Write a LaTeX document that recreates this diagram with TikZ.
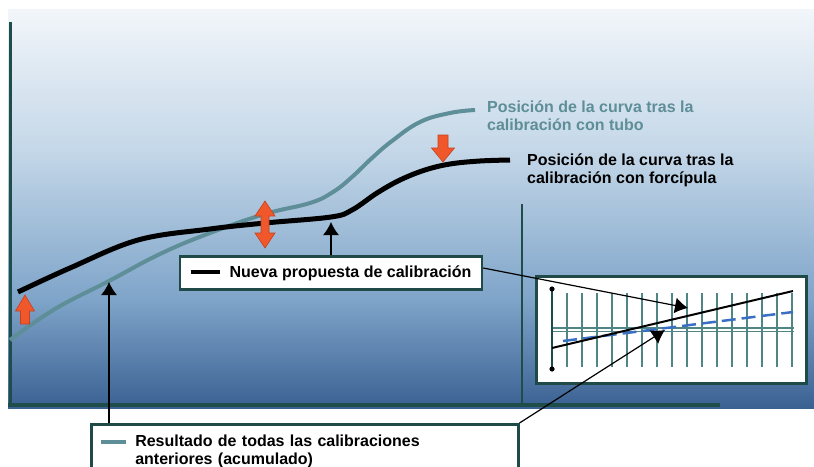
\documentclass[tikz,border=0pt]{standalone}
\usepackage{fontspec}
\setmainfont{Liberation Sans}
\usepackage{xcolor}
\usepackage{tikz}
\usetikzlibrary{arrows.meta, positioning, calc}

\definecolor{bgtop}{HTML}{F2F6FA}
\definecolor{bgupper}{HTML}{C4D7E8}
\definecolor{bglower}{HTML}{7EA4C9}
\definecolor{bgbottom}{HTML}{3A6192}
\definecolor{axisteal}{HTML}{1E4D4A}
\definecolor{curveteal}{HTML}{5E8E98}
\definecolor{tickteal}{HTML}{4F8585}
\definecolor{boxborder}{HTML}{1F4A47}
\definecolor{dashblue}{HTML}{3A6FC4}
\definecolor{arroworange}{HTML}{F0582C}
\definecolor{arrowedge}{HTML}{C8401C}

\tikzset{
  legendbox/.style={draw=boxborder, line width=2.5pt, fill=white},
  pointer/.style={black, line width=1.2pt, -{Latex[length=13pt, width=16pt]}},
  orangearrow/.style={fill=arroworange, draw=arrowedge, line width=0.6pt},
  curvelabel/.style={anchor=north west, inner sep=0pt, align=left}
}

\begin{document}
\begin{tikzpicture}[x=1pt, y=-1pt, every node/.style={font=\fontsize{16}{18}\selectfont\bfseries}]
    \useasboundingbox (0,0) rectangle (814,466);
    \clip (0,0) rectangle (814,466);
    % Background panel
    \fill[white] (0,0) rectangle (814,466);
    \shade[top color=bgtop, bottom color=bgupper] (8,9) rectangle (814,151);
    \shade[top color=bgupper, bottom color=bglower] (8,150) rectangle (814,301);
    \shade[top color=bglower, bottom color=bgbottom] (8,300) rectangle (814,408);
    % Axes
    \draw[axisteal, line width=3pt] (10,22) -- (10,405);
    \draw[axisteal, line width=4pt] (8,405) -- (720,405);
    \draw[axisteal, line width=2pt] (522,204) -- (522,405);
    % Curves
    \draw[curveteal, line width=4pt] plot[smooth, tension=0.7] coordinates {(10,340) (55,309) (109,281) (160,254) (210,233) (265,214) (310,203) (333,192) (352,177) (372,158) (392,141) (420,122) (450,113) (475,110)};
    \draw[black, line width=5pt] plot[smooth, tension=0.6] coordinates {(18,292) (70,268) (138,240) (210,229) (265,223) (331,217) (352,210) (377,193) (400,180) (425,170) (450,164) (480,161) (510,160)};
    \node[curvelabel, text=curveteal] (tubo) at (487,101) {Posición de la curva tras la\\calibración con tubo};
    \node[curvelabel, text=black] (forcipula) at (527,154) {Posición de la curva tras la\\calibración con forcípula};
    % Orange shift arrows
    \fill[orangearrow] (25,295) -- (34.5,311) -- (29.5,311) -- (29.5,324) -- (20.5,324) -- (20.5,311) -- (15.5,311) -- cycle;
    \fill[orangearrow] (265,201) -- (275,216) -- (269,216) -- (269,233) -- (275,233) -- (265,248) -- (255,233) -- (261,233) -- (261,216) -- (255,216) -- cycle;
    \fill[orangearrow] (443,162) -- (454.5,148) -- (448,148) -- (448,135) -- (438,135) -- (438,148) -- (431.5,148) -- cycle;
    % Legend boxes
    \node[legendbox, minimum width=302pt, minimum height=33pt, inner sep=0pt] (nueva) at (331,273) {\rule[3pt]{29pt}{4pt}\hspace{10pt}Nueva propuesta de calibración};
    \node[legendbox, anchor=north west, inner xsep=10pt, inner ysep=11pt, text width=407pt, align=left] (acum) at (90,423) {{\color{curveteal}\rule[3pt]{25pt}{4pt}}\hspace{9pt}Resultado de todas las calibraciones\\\hspace{34pt}anteriores (acumulado)};
    % Inset
    \node[draw=boxborder, line width=3pt, fill=white, minimum width=270pt, minimum height=107pt, inner sep=0pt] (inset) at (671,330) {};
    \foreach \i in {0,...,15}
      \draw[tickteal, line width=1.6pt] ({567+15*\i},293) -- ({567+15*\i},367);
    \draw[tickteal, line width=1.2pt] (552,328) -- (794,328);
    \draw[tickteal, line width=1.2pt] (552,331.5) -- (794,331.5);
    \draw[axisteal, line width=2pt] (552,289) -- (552,369);
    \fill (552,289) circle (2.6);
    \fill (552,369) circle (2.6);
    \draw[dashblue, line width=2.5pt, dash pattern=on 14pt off 6pt] (563,341) -- (793,312);
    \draw[black, line width=2pt] (552,348) -- (793,291);
    % Connectors
    \coordinate (tealpt) at (109,282);
    \coordinate (blackpt) at (331,222);
    \coordinate (tipA) at (688,308);
    \coordinate (tipB) at (665,330);
    \draw[pointer] (acum.north -| tealpt) -- (tealpt);
    \draw[pointer] (nueva.north -| blackpt) -- (blackpt);
    \draw[pointer] ([yshift=5pt]nueva.east) -- (tipA);
    \draw[pointer] (acum.north east) -- (tipB);
  \end{tikzpicture}
\end{document}
